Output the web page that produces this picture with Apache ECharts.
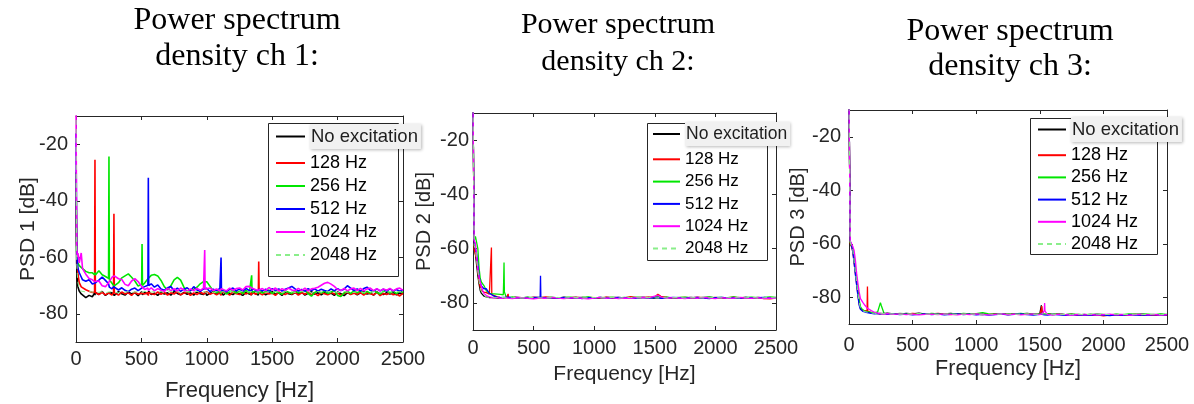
<!DOCTYPE html>
<html>
<head>
<meta charset="utf-8">
<script src="https://cdn.jsdelivr.net/npm/echarts@6/dist/echarts.min.js"></script>
<style>
html,body{margin:0;padding:0;background:#fff;}
#chart{width:1194px;height:404px;}
</style>
</head>
<body>
<div id="chart"></div>
<script>
// ---------- labels ----------
const TITLES = ['Power spectrum\ndensity ch 1:', 'Power spectrum\ndensity ch 2:', 'Power spectrum\ndensity ch 3:'];
const Y_NAMES = ['PSD 1 [dB]', 'PSD 2 [dB]', 'PSD 3 [dB]'];
const X_NAME = 'Frequency [Hz]';
const SERIES_NAMES = ['No excitation', '128 Hz', '256 Hz', '512 Hz', '1024 Hz', '2048 Hz'];
const FREQ_TICKS = [0, 500, 1000, 1500, 2000, 2500];
const PSD_TICKS = [-80, -60, -40, -20];

// ---------- panel 1 (ch 1) ----------
const P1_FREQ = [
  0, 5, 10, 15, 25, 40, 50, 75, 100, 125,
  142, 145, 148, 175, 200, 225, 249, 252, 255, 275,
  287, 290, 293, 325, 350, 375, 400, 425, 450, 475,
  502, 505, 508, 525, 550, 553, 556, 575, 600, 625,
  650, 675, 700, 725, 750, 775, 800, 825, 850, 875,
  900, 925, 950, 975, 981, 984, 987, 1000, 1025, 1050,
  1075, 1100, 1106, 1109, 1112, 1125, 1150, 1175, 1200, 1225,
  1250, 1275, 1300, 1325, 1340, 1343, 1346, 1375, 1394, 1397,
  1400, 1425, 1450, 1475, 1500, 1525, 1550, 1575, 1600, 1625,
  1650, 1675, 1700, 1725, 1750, 1775, 1800, 1825, 1850, 1875,
  1900, 1925, 1950, 1975, 2000, 2025, 2050, 2075, 2100, 2125,
  2150, 2175, 2200, 2225, 2250, 2275, 2300, 2325, 2350, 2375,
  2400, 2425, 2450, 2475, 2500];
const P1_NOEXC = [
  -40, -62, -68, -70.5, -72, -73, -73.5, -74.3, -73.5, -74,
  -72.6, -73.4, -72.5, -73.2, -72.1, -73.5, -72.7, -72.2, -73.3, -72.6,
  -73.1, -72.4, -73.5, -72.2, -72.9, -73.4, -72.3, -73.0, -72.5, -73.6,
  -72.2, -72.9, -73.3, -72.4, -73.1, -72.6, -72.0, -73.2, -72.7, -73.5,
  -72.3, -73.0, -72.6, -73.4, -72.1, -72.8, -73.3, -72.4, -73.1, -72.6,
  -73.4, -72.2, -72.9, -73.2, -72.5, -73.0, -72.3, -73.5, -72.7, -72.2,
  -73.1, -72.5, -73.3, -72.2, -72.9, -73.4, -72.4, -72.8, -73.2, -72.3,
  -72.9, -73.5, -72.4, -73.0, -72.6, -73.3, -72.2, -72.9, -73.4, -72.5,
  -73.0, -72.3, -73.3, -72.7, -72.2, -73.1, -72.6, -73.5, -72.4, -72.9,
  -73.2, -72.5, -73.0, -72.3, -73.4, -72.8, -72.2, -73.1, -72.6, -73.3,
  -72.4, -73.0, -72.7, -73.5, -72.3, -72.9, -73.6, -72.5, -73.1, -72.4,
  -73.3, -72.6, -72.2, -73.0, -72.7, -73.4, -72.3, -72.9, -73.2, -72.5,
  -73.0, -72.4, -73.3, -72.7, -72.9];
const P1_128 = [
  -30, -55, -62, -66, -69, -70.5, -71, -71.5, -72, -72.5,
  -72.3, -25.5, -72.5, -73.2, -72.4, -73.3, -72.6, -73.1, -72.2, -73.4,
  -72.5, -44.6, -72.6, -73.4, -72.3, -73.0, -72.6, -73.5, -72.4, -73.1,
  -72.7, -73.3, -72.2, -73.0, -72.5, -73.6, -72.4, -72.9, -73.2, -72.3,
  -73.1, -72.4, -73.4, -72.6, -73.0, -72.2, -73.3, -72.7, -72.4, -73.5,
  -72.6, -73.2, -72.3, -73.0, -72.5, -73.4, -72.7, -72.2, -73.1, -72.6,
  -73.3, -72.4, -72.9, -73.5, -72.3, -73.0, -72.6, -73.4, -72.2, -72.9,
  -73.2, -72.5, -73.0, -72.3, -73.4, -72.7, -72.4, -73.1, -72.5, -61.5,
  -72.6, -73.3, -72.4, -73.0, -72.7, -73.5, -72.3, -72.9, -73.2, -72.5,
  -73.0, -72.4, -73.4, -72.6, -73.1, -72.3, -73.3, -72.8, -73.6, -72.5,
  -72.9, -73.3, -72.4, -73.0, -72.6, -73.5, -72.8, -72.3, -73.2, -72.7,
  -73.1, -72.5, -73.4, -72.6, -72.9, -73.3, -72.4, -73.6, -72.8, -73.2,
  -72.7, -73.3, -73.0, -73.7, -72.8];
const P1_256 = [
  -30, -58, -60, -62, -63, -63.5, -64, -65, -65.5, -65.5,
  -66.2, -65.4, -66.3, -64.8, -66.2, -66.8, -67.5, -24.3, -68, -69.2,
  -69.6, -70.2, -69.8, -69.0, -67.3, -66.6, -65.9, -67.1, -68.4, -70.2,
  -69.5, -55.3, -70, -69.1, -67.6, -67.2, -67.0, -66.4, -66.1, -66.6,
  -68.2, -70.4, -71.6, -70.1, -68.0, -67.1, -68.1, -70.6, -72.3, -71.8,
  -71.3, -70.6, -69.4, -68.6, -68.4, -68.6, -68.5, -68.7, -70.3, -72.0,
  -72.6, -71.8, -72.9, -72.0, -72.5, -71.7, -73.0, -72.2, -71.8, -72.7,
  -72.0, -72.9, -71.7, -72.6, -72.3, -66.4, -72.5, -71.9, -72.8, -72.2,
  -71.8, -72.7, -72.1, -71.6, -72.9, -72.0, -72.6, -73.1, -71.9, -72.4,
  -72.8, -71.9, -72.6, -72.1, -71.7, -72.9, -73.8, -72.5, -71.9, -72.7,
  -72.0, -72.8, -72.3, -71.8, -73.5, -73.9, -72.6, -72.0, -72.9, -71.8,
  -72.6, -71.9, -72.8, -72.1, -72.7, -71.8, -72.5, -73.0, -72.1, -71.7,
  -72.7, -72.0, -72.9, -71.9, -72.5];
const P1_512 = [
  -16, -55, -62, -64, -65.5, -67, -68, -68.5, -68, -69.5,
  -69.2, -69.6, -68.8, -68.1, -67.0, -68.2, -69.4, -70.1, -70.6, -71.2,
  -70.4, -70.1, -70.6, -71.6, -70.8, -71.7, -72.2, -71.3, -70.9, -71.8,
  -70.9, -71.4, -71.0, -70.4, -69.9, -31.9, -70.0, -69.4, -70.6, -69.8,
  -71.2, -71.7, -70.8, -70.4, -71.8, -70.9, -72.1, -71.3, -70.8, -71.9,
  -70.4, -71.6, -72.1, -71.2, -71.8, -71.3, -71.9, -71.0, -72.2, -71.3,
  -71.9, -71.0, -71.7, -60.1, -71.8, -71.1, -72.2, -71.4, -70.9, -71.9,
  -71.2, -72.1, -71.0, -71.8, -71.4, -71.9, -71.1, -71.7, -72.2, -71.3,
  -71.0, -71.9, -71.3, -72.2, -71.1, -71.8, -71.2, -72.0, -71.3, -70.9,
  -70.3, -71.2, -72.0, -71.4, -72.1, -71.1, -71.8, -71.2, -72.0, -71.3,
  -71.8, -72.1, -71.2, -71.9, -71.1, -71.8, -71.3, -70.1, -70.9, -71.8,
  -71.2, -72.0, -71.1, -70.6, -71.7, -72.1, -71.2, -71.9, -71.3, -72.0,
  -71.2, -71.9, -71.4, -72.1, -71.5];
const P1_1024 = [
  -5, -56, -60, -58.5, -62, -58.5, -64, -66, -67.5, -68,
  -68.6, -68.8, -69.1, -68.4, -70.1, -70.4, -69.0, -68.8, -68.4, -67.1,
  -66.4, -66.3, -66.6, -67.6, -67.9, -69.6, -70.1, -68.4, -67.6, -68.6,
  -70.4, -70.8, -71.1, -71.4, -70.9, -71.7, -71.2, -70.8, -71.9, -71.1,
  -71.7, -72.1, -71.0, -71.8, -71.1, -72.0, -70.9, -71.6, -72.1, -71.2,
  -71.9, -71.0, -71.7, -70.9, -71.5, -57.4, -71.3, -71.8, -70.9, -71.8,
  -71.2, -72.0, -71.3, -71.8, -71.1, -71.0, -71.9, -70.9, -71.7, -71.1,
  -70.9, -71.6, -70.4, -70.3, -70.6, -70.9, -70.8, -71.5, -71.7, -71.2,
  -71.9, -71.1, -71.8, -70.7, -71.6, -70.9, -71.9, -71.1, -71.7, -70.9,
  -71.6, -71.9, -71.0, -71.8, -70.9, -71.9, -71.2, -71.0, -70.6, -69.9,
  -69.2, -68.9, -69.5, -70.3, -71.4, -71.8, -71.0, -71.9, -71.2, -70.9,
  -71.8, -71.0, -71.9, -71.2, -70.9, -71.8, -71.1, -71.9, -71.2, -71.7,
  -71.0, -71.9, -71.2, -70.9, -71.7];
const P1_2048 = [
  -5, -60, -66, -69, -71, -72, -72.2, -72.3, -72, -72.4,
  -72.2, -72.5, -72.1, -72.4, -72.2, -72.6, -72.3, -72.1, -72.5, -72.2,
  -72.4, -72.1, -72.3, -72.6, -72.2, -72.4, -72.1, -72.5, -72.3, -72.2,
  -72.5, -72.2, -72.4, -72.1, -72.3, -72.6, -72.2, -72.4, -72.1, -72.3,
  -72.2, -72.5, -72.3, -72.1, -72.4, -72.2, -72.6, -72.3, -72.1, -72.4,
  -72.3, -72.1, -72.4, -72.2, -72.5, -72.3, -72.1, -72.4, -72.2, -72.6,
  -72.2, -72.4, -72.1, -72.3, -72.5, -72.2, -72.4, -72.1, -72.3, -72.6,
  -72.3, -72.1, -72.4, -72.2, -72.5, -72.3, -72.1, -72.4, -72.2, -72.5,
  -72.1, -72.3, -72.5, -72.2, -72.4, -72.1, -72.3, -72.6, -72.2, -72.4,
  -72.2, -72.5, -72.3, -72.1, -72.4, -72.2, -72.6, -72.3, -72.1, -72.4,
  -72.3, -72.1, -72.4, -72.2, -72.5, -72.3, -72.1, -72.4, -72.2, -72.5,
  -72.1, -72.3, -72.5, -72.2, -72.4, -72.1, -72.3, -72.6, -72.2, -72.4,
  -72.2, -72.5, -72.3, -72.1, -72.4];

// ---------- panel 2 (ch 2) ----------
const P2_FREQ = [
  0, 10, 20, 30, 40, 50, 60, 70, 80, 90,
  100, 110, 120, 135, 149, 152, 155, 175, 200, 225,
  250, 253, 256, 259, 275, 287, 290, 293, 325, 350,
  400, 450, 500, 554, 557, 560, 600, 650, 700, 750,
  800, 850, 900, 950, 1000, 1050, 1100, 1150, 1200, 1250,
  1300, 1350, 1400, 1450, 1500, 1525, 1550, 1600, 1650, 1700,
  1750, 1800, 1850, 1900, 1950, 2000, 2050, 2100, 2150, 2200,
  2250, 2300, 2350, 2400, 2450, 2500];
const P2_NOEXC = [
  -5, -59, -62, -66, -70, -73, -75.5, -76.5, -77, -77.5,
  -77.7, -77.8, -78, -78.1, -78, -78.2, -78.1, -78, -78.3, -78.1,
  -78.2, -78, -78.1, -78.3, -78, -78.2, -78.1, -78, -78.3, -78.1,
  -78.2, -78, -78.3, -78.1, -78.2, -78, -78.3, -78.1, -78.2, -78,
  -78.3, -78.1, -78, -78.2, -78.1, -78.3, -78, -78.2, -78.1, -78.3,
  -78, -78.2, -78.1, -78, -78.3, -78.1, -78.2, -78, -78.3, -78.1,
  -78.2, -78, -78.3, -78.1, -77.9, -78.2, -78.1, -78.3, -78, -78.2,
  -78.1, -78.3, -78, -78.2, -78.1, -78.3];
const P2_128 = [
  -5, -60.3, -61, -64, -68, -72, -74.2, -75.5, -75.8, -76,
  -76, -76.2, -76.5, -76.8, -76.8, -59.6, -77, -77.3, -77.8, -78,
  -78.1, -77.9, -78.2, -78, -78.1, -78, -76.7, -78, -78.2, -77.9,
  -78.1, -78.3, -77.9, -78.1, -78, -78.2, -77.8, -78.1, -78.3, -78,
  -78.1, -77.9, -78.2, -78, -78.1, -78.3, -77.9, -78.1, -78, -78.2,
  -77.7, -78.1, -78, -77.9, -77.8, -76.8, -77.6, -78, -78.2, -78.1,
  -78, -78.2, -77.9, -78.1, -78.3, -78, -78.2, -78.1, -77.9, -78.2,
  -78, -78.3, -78.1, -78.4, -78.5, -78.2];
const P2_256 = [
  -5, -57, -55.5, -56, -60, -67, -71, -72.4, -73, -73.6,
  -74.5, -75.5, -76, -76.5, -76.6, -76.6, -76.7, -76.7, -76.8, -76.9,
  -77, -72, -65.1, -76, -78, -78.1, -77.9, -78.1, -77.8, -78,
  -78.2, -77.9, -78.1, -78, -78.2, -77.8, -78.1, -77.9, -78.2, -78,
  -77.9, -78.1, -78, -77.8, -78.2, -78, -78.1, -77.9, -78.2, -78,
  -78.1, -77.9, -78, -78.2, -77.9, -77.5, -78.1, -77.9, -78.2, -78,
  -77.9, -78.1, -78.2, -78, -77.9, -78.1, -78, -78.2, -77.8, -78.1,
  -78, -77.9, -78.1, -78, -77.8, -78];
const P2_512 = [
  -5, -58, -57.8, -62, -66, -70, -72.5, -73.8, -74.5, -74.8,
  -74.5, -74.8, -75.5, -76.5, -76.8, -76.9, -77, -77.5, -77.9, -78.1,
  -78, -78.2, -77.9, -78.1, -78, -78.2, -78.1, -77.9, -78.2, -78,
  -78.1, -78.3, -78, -77.9, -70, -78, -78.2, -78.1, -78.3, -78,
  -78.2, -78, -78.4, -78.1, -78.2, -78, -78.3, -78.1, -78, -78.2,
  -78.1, -78.3, -78, -78.2, -78.1, -78, -78.3, -78.2, -78, -78.1,
  -78.3, -78.1, -78, -78.2, -78.4, -78.1, -78, -78.2, -78.1, -78.3,
  -78, -78.2, -78.1, -78, -78.2, -78.1];
const P2_1024 = [
  -5, -57, -58, -63, -67.5, -70.5, -72.5, -74, -75.5, -76.5,
  -77, -77.3, -77.5, -77.8, -78, -78.1, -78, -78.2, -78.1, -78.3,
  -78.2, -78, -78.3, -78.1, -78.2, -78, -78.3, -78.1, -78.4, -78.2,
  -78.1, -78.3, -78.5, -78.2, -78.4, -78.1, -78.3, -78, -78.2, -78.4,
  -78.2, -78.1, -78.3, -78.5, -78.2, -78, -78.3, -78.1, -78.4, -78.2,
  -78.3, -78.1, -78, -78.2, -77.5, -77.2, -77.8, -78.3, -78.1, -78.2,
  -78.4, -78.1, -78.3, -78, -78.2, -78.4, -78.1, -78.3, -78.2, -78,
  -78.2, -78.3, -78.1, -78.4, -78.2, -78.3];
const P2_2048 = [
  -5, -59, -60, -64, -68, -72, -74.5, -76, -76.8, -77.3,
  -77.6, -77.8, -78, -78.1, -78, -78.2, -78.1, -78, -78.2, -78.1,
  -78, -78.2, -78.1, -78, -78.2, -78.1, -78, -78.2, -78.1, -78,
  -78.2, -78.1, -78, -78.2, -78.1, -78, -78.2, -78.1, -78, -78.2,
  -78.1, -78, -78.2, -78.1, -78, -78.2, -78.1, -78, -78.2, -78.1,
  -78, -78.2, -78.1, -78, -78.2, -78.1, -78, -78.2, -78.1, -78,
  -78.2, -78.1, -78, -78.2, -78.1, -78, -78.2, -78.1, -78, -78.2,
  -78.1, -78, -78.2, -78.1, -78, -78.2];

// ---------- panel 3 (ch 3) ----------
const P3_FREQ = [
  0, 10, 20, 30, 40, 50, 60, 70, 80, 90,
  100, 110, 125, 142, 145, 148, 175, 200, 225, 247,
  250, 253, 275, 300, 350, 400, 450, 500, 550, 600,
  650, 700, 750, 800, 850, 900, 950, 1000, 1050, 1100,
  1150, 1200, 1250, 1300, 1350, 1400, 1450, 1500, 1512, 1515,
  1518, 1535, 1538, 1541, 1560, 1600, 1650, 1700, 1750, 1800,
  1850, 1900, 1950, 2000, 2050, 2100, 2150, 2200, 2250, 2300,
  2350, 2400, 2450, 2500];
const P3_NOEXC = [
  -5, -60, -60, -62, -66, -70, -74, -78, -82, -84,
  -84.5, -85, -85.3, -85.5, -85.6, -85.6, -85.8, -86, -86.1, -86,
  -86.2, -86, -86.1, -85.9, -86.2, -86.3, -86, -86.2, -85.9, -86.3,
  -86.1, -86.4, -86.2, -86, -86.3, -86.1, -86.4, -86.2, -86, -86.3,
  -86.2, -86.4, -86.1, -86.3, -86.2, -86, -86.3, -86.2, -83, -84,
  -86, -86.2, -86.1, -86.3, -86.2, -86.4, -86.2, -86.5, -86.3, -86.6,
  -86.4, -86.6, -86.3, -86.5, -86.7, -86.4, -86.6, -86.5, -86.3, -86.6,
  -86.5, -86.7, -86.4, -86.6];
const P3_128 = [
  -5, -60, -61, -63, -67, -71, -75, -79, -82.5, -84.2,
  -84.5, -85, -85.2, -85, -76, -85.3, -85.7, -85.9, -86, -86.2,
  -86.1, -86.3, -86, -86.2, -86.4, -86.1, -86.3, -86, -86.2, -86.4,
  -86.2, -86, -86.3, -86.5, -86.2, -86.4, -86.1, -86.3, -86.5, -86.2,
  -86.4, -86.2, -86.5, -86.3, -86.1, -86.4, -86.2, -86.3, -84.5, -83.3,
  -85.5, -86.2, -86.3, -86.4, -86.2, -86.5, -86.3, -86.6, -86.4, -86.7,
  -86.5, -86.8, -86.6, -87, -86.7, -86.5, -86.8, -86.6, -86.4, -86.7,
  -86.6, -86.8, -86.5, -86.7];
const P3_256 = [
  -5, -59.5, -60, -62, -65, -69, -73, -77.5, -81, -83.5,
  -84.3, -84.8, -85.2, -85.4, -85.5, -85.5, -85.7, -85.8, -85.5, -82,
  -81.6, -83, -86, -86.1, -86.3, -86, -86.2, -86.4, -86.1, -86.3,
  -86, -86.2, -86.4, -86.1, -86.3, -86, -86.2, -86.1, -85.8, -86.2,
  -86.3, -86.1, -86.4, -86.2, -86, -86.3, -86.1, -86.2, -86.4, -86.1,
  -86.3, -86.2, -86, -86.3, -86.1, -86.4, -86.2, -86.5, -86.3, -86.4,
  -86.6, -86.3, -86.5, -86.4, -86.6, -86.3, -86.5, -86.2, -86.4, -86.1,
  -86.3, -86.5, -86.2, -86.4];
const P3_512 = [
  -5, -59, -60.5, -63, -67, -71.5, -75.5, -79.5, -83, -84.5,
  -85, -85.3, -85.5, -85.7, -85.8, -85.8, -86, -86.2, -86, -86.3,
  -86.1, -86.3, -86, -86.4, -86.2, -86.5, -86.3, -86.6, -86.4, -86.2,
  -86.5, -86.3, -86.6, -86.4, -86.2, -86.5, -86.3, -86.6, -86.4, -86.7,
  -86.5, -86.3, -86.6, -86.4, -86.2, -86.5, -86.7, -86.4, -86.3, -86.5,
  -86.4, -86.6, -86.3, -86.5, -86.7, -86.4, -86.6, -86.8, -86.5, -86.7,
  -86.6, -86.8, -86.5, -86.7, -86.9, -86.6, -86.8, -86.5, -86.7, -86.6,
  -86.8, -86.5, -86.7, -86.6];
const P3_1024 = [
  -5, -59, -59.5, -61, -62.5, -66, -71, -74.7, -78, -80.5,
  -81.2, -82, -83, -84, -84.2, -84.3, -85, -85.6, -85.9, -86.1,
  -86, -86.2, -86.3, -86.1, -86.4, -86.2, -86.5, -86.3, -86.6, -86.4,
  -86.3, -86.5, -86.2, -86.4, -86.6, -86.3, -86.5, -86.2, -86.4, -86.6,
  -86.4, -86.2, -86.5, -86.3, -86.6, -86.4, -86.2, -86.5, -86.3, -86.4,
  -86.2, -85, -82.2, -85.2, -86.4, -86.6, -86.3, -86.5, -86.7, -86.4,
  -86.6, -86.4, -86.7, -86.5, -86.3, -86.6, -86.4, -86.7, -86.5, -86.3,
  -86.6, -86.4, -86.7, -86.5];
const P3_2048 = [
  -5, -59.5, -60, -62.5, -66.5, -70.5, -74.5, -78.5, -82, -84,
  -84.7, -85.1, -85.4, -85.6, -85.7, -85.7, -85.9, -86, -86.1, -86.2,
  -86.2, -86.3, -86.1, -86.3, -86.2, -86.4, -86.2, -86.3, -86.1, -86.3,
  -86.2, -86.4, -86.3, -86.2, -86.4, -86.3, -86.2, -86.4, -86.3, -86.2,
  -86.4, -86.3, -86.2, -86.4, -86.3, -86.2, -86.4, -86.3, -86.2, -86.4,
  -86.3, -86.2, -86.4, -86.3, -86.2, -86.4, -86.3, -86.5, -86.4, -86.3,
  -86.5, -86.4, -86.3, -86.5, -86.4, -86.3, -86.5, -86.4, -86.3, -86.5,
  -86.4, -86.3, -86.5, -86.4];

const PANELS = [
  { freq: P1_FREQ, values: [P1_NOEXC, P1_128, P1_256, P1_512, P1_1024, P1_2048] },
  { freq: P2_FREQ, values: [P2_NOEXC, P2_128, P2_256, P2_512, P2_1024, P2_2048] },
  { freq: P3_FREQ, values: [P3_NOEXC, P3_128, P3_256, P3_512, P3_1024, P3_2048] }
];

// ---------- styles / layout ----------
const COLORS = ['#000000', '#ff0000', '#00e600', '#0000ff', '#ff00ff', '#8aee8a'];
const SANS = "'Liberation Sans', Arial, sans-serif";
const SERIF = "'Liberation Serif', 'Times New Roman', serif";
const AX = '#262626';
const LAYOUT = [
  { grid: { left: 76, top: 116, width: 327, height: 226 }, title: { left: 237, top: 3, lh: 36, fs: 32 },
    xLabelSize: 20, xLabelMargin: 7, xNameSize: 22, xNameGap: 38, yLabelMargin: 8, yNameSize: 21, yNameGap: 37,
    legend: { left: 275, top: 124, iw: 29, gap: 5, fs: 18 }, box: [268, 123, 130, 153], lw: 1.6 },
  { grid: { left: 473, top: 113, width: 303, height: 217 }, title: { left: 618, top: 7, lh: 37, fs: 30 },
    xLabelSize: 20, xLabelMargin: 8, xNameSize: 21, xNameGap: 34, yLabelMargin: 4, yNameSize: 20, yNameGap: 39,
    legend: { left: 652, top: 122, iw: 27, gap: 4.3, fs: 17 }, box: [647, 123, 120, 137], lw: 1.3 },
  { grid: { left: 849, top: 110, width: 318, height: 214 }, title: { left: 1010, top: 14, lh: 35, fs: 32 },
    xLabelSize: 20, xLabelMargin: 11, xNameSize: 21.5, xNameGap: 34, yLabelMargin: 8, yNameSize: 20, yNameGap: 41,
    legend: { left: 1037, top: 117, iw: 28, gap: 4.2, fs: 18 }, box: [1030, 118, 127, 136], lw: 1.3 }
];

const chart = echarts.init(document.getElementById('chart'), null, { renderer: 'canvas' });

const grids = LAYOUT.map(l => Object.assign({ containLabel: false, outerBoundsMode: 'none' }, l.grid));
const titles = LAYOUT.map((l, i) => ({
  text: TITLES[i], left: l.title.left, top: l.title.top, textAlign: 'center', padding: 0,
  textStyle: { fontFamily: SERIF, fontSize: l.title.fs, fontWeight: 'normal', color: '#000', lineHeight: l.title.lh }
}));

const plain = v => String(v);
const xAxes = [], yAxes = [];
LAYOUT.forEach((l, i) => {
  xAxes.push({
    type: 'value', gridIndex: i, min: FREQ_TICKS[0], max: FREQ_TICKS[FREQ_TICKS.length - 1], interval: 500,
    axisLine: { show: true, onZero: false, lineStyle: { color: AX, width: 1 } },
    axisTick: { show: true, inside: true, length: 4, lineStyle: { color: AX } },
    axisLabel: { show: true, fontFamily: SANS, fontSize: l.xLabelSize, color: AX, margin: l.xLabelMargin,
                 customValues: FREQ_TICKS, formatter: plain },
    splitLine: { show: false },
    name: X_NAME, nameLocation: 'middle', nameGap: l.xNameGap, nameMoveOverlap: false,
    nameTextStyle: { fontFamily: SANS, fontSize: l.xNameSize, color: AX }
  });
  yAxes.push({
    type: 'value', gridIndex: i, min: -90, max: -10,
    axisLine: { show: true, onZero: false, lineStyle: { color: AX, width: 1 } },
    axisTick: { show: true, inside: true, length: 4, lineStyle: { color: AX }, customValues: PSD_TICKS },
    axisLabel: { show: true, fontFamily: SANS, fontSize: 20, color: AX, margin: l.yLabelMargin,
                 customValues: PSD_TICKS, formatter: plain },
    splitLine: { show: false },
    name: Y_NAMES[i], nameLocation: 'middle', nameGap: l.yNameGap, nameRotate: 90, nameMoveOverlap: false,
    nameTextStyle: { fontFamily: SANS, fontSize: l.yNameSize, color: AX }
  });
});
LAYOUT.forEach((l, i) => {
  xAxes.push({
    type: 'value', gridIndex: i, position: 'top', min: 0, max: 2500, interval: 500,
    axisLine: { show: true, onZero: false, lineStyle: { color: AX, width: 1 } },
    axisTick: { show: true, inside: true, length: 4, lineStyle: { color: AX } },
    axisLabel: { show: false }, splitLine: { show: false }
  });
  yAxes.push({
    type: 'value', gridIndex: i, position: 'right', min: -90, max: -10,
    axisLine: { show: true, onZero: false, lineStyle: { color: AX, width: 1 } },
    axisTick: { show: true, inside: true, length: 4, lineStyle: { color: AX }, customValues: PSD_TICKS },
    axisLabel: { show: false }, splitLine: { show: false }
  });
});

const series = [];
PANELS.forEach((p, i) => {
  p.values.forEach((vals, k) => {
    series.push({
      type: 'line', name: SERIES_NAMES[k], xAxisIndex: i, yAxisIndex: i,
      data: p.freq.map((f, j) => [f, vals[j]]),
      symbol: 'none', showSymbol: false, animation: false, clip: true,
      lineStyle: { color: COLORS[k], width: k === 5 ? 1 : LAYOUT[i].lw, type: k === 5 ? [5, 4] : 'solid' },
      itemStyle: { color: COLORS[k] },
      emphasis: { disabled: true }
    });
  });
});

const legends = LAYOUT.map((l, i) => ({
  data: SERIES_NAMES, orient: 'vertical', left: l.legend.left, top: l.legend.top,
  itemWidth: l.legend.iw, itemHeight: 14, itemGap: l.legend.gap, padding: 0,
  selectedMode: false, z: 6,
  itemStyle: { opacity: 0 },
  lineStyle: { width: 2 },
  textStyle: {
    fontFamily: SANS, fontSize: l.legend.fs, color: '#000', lineHeight: 18,
    rich: {
      hl: { fontFamily: SANS, fontSize: l.legend.fs + 0.5, color: '#1e1e1e', lineHeight: 18,
            backgroundColor: '#f1f1f1', padding: [3, 3, 3, 1],
            shadowColor: 'rgba(0,0,0,0.28)', shadowBlur: 3, shadowOffsetX: 1, shadowOffsetY: 1 }
    }
  },
  formatter: name => name === SERIES_NAMES[0] ? '{hl|' + name + '}' : name
}));

const graphics = LAYOUT.map(l => ({
  type: 'rect', z: 5,
  shape: { x: l.box[0] + 0.5, y: l.box[1] + 0.5, width: l.box[2], height: l.box[3] },
  style: { fill: '#ffffff', stroke: AX, lineWidth: 1 }
}));

chart.setOption({
  backgroundColor: '#ffffff',
  animation: false,
  title: titles,
  grid: grids,
  xAxis: xAxes,
  yAxis: yAxes,
  legend: legends,
  graphic: graphics,
  series: series
});
</script>
</body>
</html>
